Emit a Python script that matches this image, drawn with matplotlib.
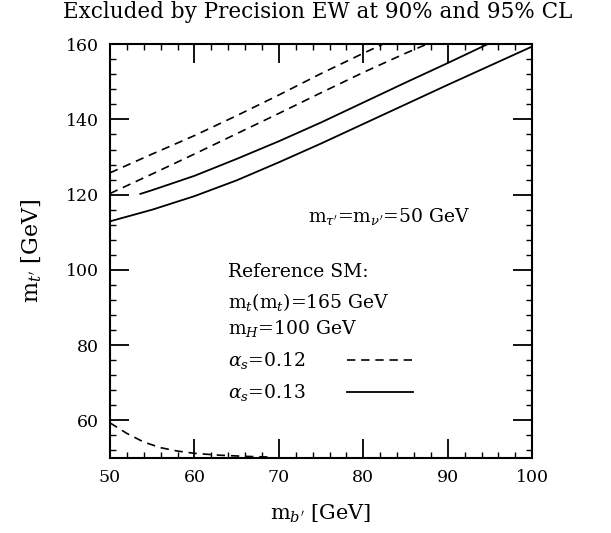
import numpy as np
import matplotlib.pyplot as plt
from matplotlib.ticker import MultipleLocator

plt.rcParams['font.family'] = ['DejaVu Serif']
plt.rcParams['mathtext.fontset'] = 'dejavuserif'

# alpha_s = 0.12 (dashed), two confidence levels
dash_hi_x = [50, 55, 60, 65, 70, 75, 80, 82.3]
dash_hi_y = [125.8, 130.8, 135.7, 141.0, 146.5, 152.2, 157.6, 160.0]
dash_lo_x = [50, 55, 60, 65, 70, 75, 80, 85, 87.5]
dash_lo_y = [120.3, 125.5, 130.8, 136.2, 141.6, 147.1, 152.5, 157.6, 160.0]

# alpha_s = 0.13 (solid)
solid_hi_x = [53.6, 55, 60, 65, 70, 75, 80, 85, 90, 94.7]
solid_hi_y = [120.2, 121.2, 125.0, 129.5, 134.2, 139.2, 144.5, 149.8, 155.0, 160.0]
solid_lo_x = [50, 55, 60, 65, 70, 75, 80, 85, 90, 95, 100]
solid_lo_y = [112.9, 116.0, 119.6, 123.8, 128.6, 133.6, 138.8, 144.0, 149.2, 154.3, 159.4]

# small dashed piece in the lower left corner
corner_x = [50, 52, 54, 56, 58, 60, 63, 66, 69]
corner_y = [59.3, 56.5, 54.2, 52.7, 51.8, 51.2, 50.7, 50.4, 50.2]

fig = plt.figure(figsize=(6.11, 5.33), dpi=100)
ax = fig.add_axes([0.180, 0.141, 0.691, 0.776])

dash = (0, (5, 3.5))
ax.plot(dash_hi_x, dash_hi_y, color='black', lw=1.2, ls=dash)
ax.plot(dash_lo_x, dash_lo_y, color='black', lw=1.2, ls=dash)
ax.plot(solid_hi_x, solid_hi_y, color='black', lw=1.3)
ax.plot(solid_lo_x, solid_lo_y, color='black', lw=1.3)
ax.plot(corner_x, corner_y, color='black', lw=1.2, ls=dash)

ax.set_xlim(50, 100)
ax.set_ylim(50, 160)
ax.xaxis.set_major_locator(MultipleLocator(10))
ax.xaxis.set_minor_locator(MultipleLocator(2))
ax.yaxis.set_major_locator(MultipleLocator(20))
ax.yaxis.set_minor_locator(MultipleLocator(4))
ax.set_yticks([60, 80, 100, 120, 140, 160])
ax.tick_params(which='major', direction='in', top=True, right=True,
               width=1.3, length=14, labelsize=12.5, pad=8)
ax.tick_params(which='minor', direction='in', top=True, right=True,
               width=1.0, length=4.5)
for s in ax.spines.values():
    s.set_linewidth(1.5)

ax.set_xlabel("m$_{b'}$ [GeV]", fontsize=15, labelpad=12)
ax.set_ylabel("m$_{t'}$ [GeV]", fontsize=16, labelpad=16)
fig.text(0.52, 0.977, "Excluded by Precision EW at 90% and 95% CL",
         ha='center', va='center', fontsize=15.5)

fs = 13.5
ax.text(73.5, 114.3, "m$_{\\tau'}$=m$_{\\nu'}$=50 GeV", fontsize=fs, va='center')
ax.text(64.0, 99.4, "Reference SM:", fontsize=fs, va='center')
ax.text(64.0, 91.5, "m$_t$(m$_t$)=165 GeV", fontsize=fs, va='center')
ax.text(64.0, 84.5, "m$_H$=100 GeV", fontsize=fs, va='center')
ax.text(64.0, 76.0, "$\\alpha_s$=0.12", fontsize=fs, va='center')
ax.text(64.0, 67.5, "$\\alpha_s$=0.13", fontsize=fs, va='center')
ax.plot([78.1, 85.9], [76.0, 76.0], color='black', lw=1.2, ls=dash)
ax.plot([78.1, 85.9], [67.5, 67.5], color='black', lw=1.3)

fig.savefig('out.png', dpi=100)
